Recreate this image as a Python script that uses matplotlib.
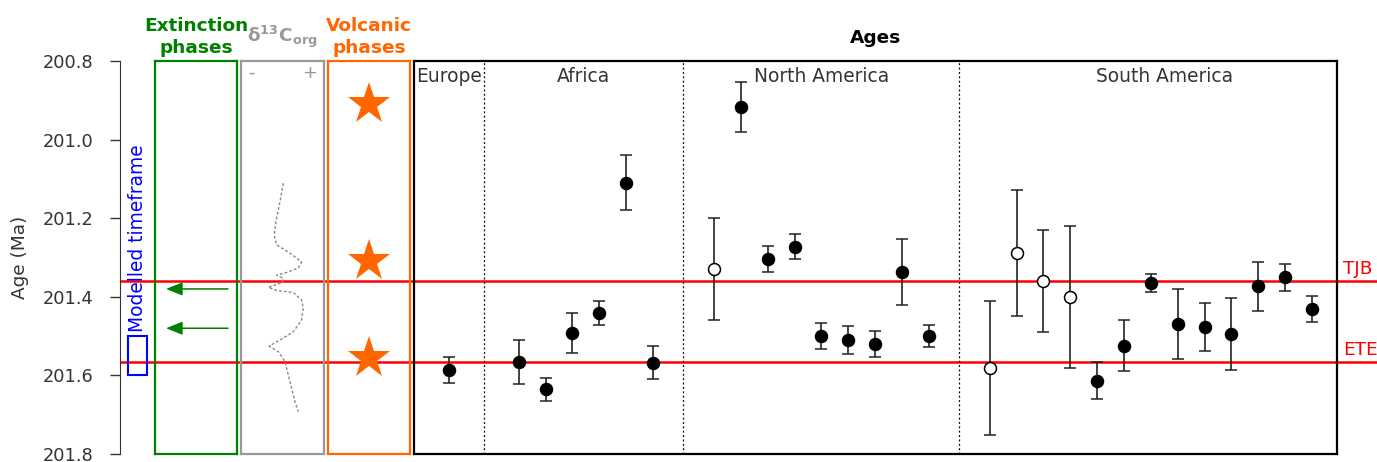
import matplotlib
matplotlib.use('Agg')
import matplotlib.pyplot as plt
from matplotlib.patches import Rectangle

plt.rcParams['font.family'] = ['DejaVu Sans']

# boundaries and phases (Ma)
tjb_age = 201.36
ete_age = 201.565
model_span = [201.5, 201.6]
extinction_ages = [201.38, 201.48]
volcanic_ages = [200.91, 201.31, 201.555]

# d13C org curve (relative value, 0 = "-", 1 = "+")
d13c_age = [201.111, 201.158, 201.209, 201.243, 201.268, 201.289, 201.311, 201.327,
            201.338, 201.345, 201.353, 201.363, 201.376, 201.384, 201.389, 201.408,
            201.429, 201.459, 201.489, 201.510, 201.525, 201.540, 201.565, 201.616,
            201.667, 201.692]
d13c_val = [0.51, 0.47, 0.42, 0.40, 0.43, 0.59, 0.73, 0.69, 0.55, 0.43, 0.51, 0.50,
            0.33, 0.43, 0.63, 0.73, 0.75, 0.73, 0.63, 0.47, 0.34, 0.45, 0.53, 0.59,
            0.65, 0.69]

# radiometric ages per region
regions = ['Europe', 'Africa', 'North America', 'South America']
europe_age = [201.586]
europe_err = [0.034]
europe_open = [False]
africa_age = [201.566, 201.635, 201.492, 201.441, 201.110, 201.568]
africa_err = [0.055, 0.029, 0.052, 0.030, 0.070, 0.042]
africa_open = [False] * 6
na_age = [201.329, 200.917, 201.304, 201.273, 201.500, 201.510, 201.520, 201.337, 201.500]
na_err = [0.130, 0.064, 0.033, 0.032, 0.033, 0.035, 0.033, 0.084, 0.028]
na_open = [True] + [False] * 8
sa_age = [201.581, 201.289, 201.360, 201.400, 201.614, 201.525, 201.365, 201.469,
          201.477, 201.495, 201.373, 201.350, 201.431]
sa_err = [0.170, 0.160, 0.130, 0.180, 0.047, 0.065, 0.023, 0.089, 0.062, 0.092,
          0.062, 0.034, 0.033]
sa_open = [True] * 4 + [False] * 9

all_age = [europe_age, africa_age, na_age, sa_age]
all_err = [europe_err, africa_err, na_err, sa_err]
all_open = [europe_open, africa_open, na_open, sa_open]

W, H = 1377, 462
fig = plt.figure(figsize=(W / 100, H / 100), dpi=100)
bottom, height = 8 / H, 393 / H


def panel(x0, x1):
    a = fig.add_axes([x0 / W, bottom, (x1 - x0) / W, height])
    a.set_ylim(201.8, 200.8)
    a.set_facecolor('none')
    return a


def frame(a, color):
    a.set_xticks([])
    a.set_yticks([])
    for s in a.spines.values():
        s.set_color(color)
        s.set_linewidth(1.6)


def header(a, text, color, off, **kw):
    a.annotate(text, xy=(0.5, 1), xycoords='axes fraction', xytext=(0, off),
               textcoords='offset points', ha='center', va='bottom', color=color,
               fontsize=13.3, fontweight='bold', linespacing=1.3, **kw)


# base axis: age scale and boundary lines (x in pixels of the figure)
base = panel(120, W)
base.set_xlim(120, W)
for k in ['top', 'right', 'bottom']:
    base.spines[k].set_visible(False)
base.spines['left'].set_color('#333333')
base.set_xticks([])
base.set_yticks([200.8, 201.0, 201.2, 201.4, 201.6, 201.8])
base.set_yticklabels(['200.8', '201.0', '201.2', '201.4', '201.6', '201.8'])
base.tick_params(axis='y', length=7.2, width=1, pad=12, labelsize=12.8, colors='#333333')
base.set_ylabel('Age (Ma)', fontsize=13.3, labelpad=10, color='#333333')
for age, lab in [(tjb_age, 'TJB'), (ete_age, 'ETE')]:
    base.axhline(age, color='red', lw=1.8, zorder=1)
    base.annotate(lab, xy=(1343, age), xytext=(0, 2), textcoords='offset points',
                  color='red', fontsize=13.3, ha='left', va='bottom')

base.add_patch(Rectangle((128, model_span[0]), 19, model_span[1] - model_span[0],
                         fill=False, ec='blue', lw=1.5))
base.annotate('Modelled timeframe', xy=(137.5, model_span[0]), xytext=(0, 3),
              textcoords='offset points', rotation=90, ha='center', va='bottom',
              color='blue', fontsize=13.4)

# extinction phases
ext = panel(155, 237)
ext.set_xlim(0, 1)
frame(ext, '#008000')
header(ext, 'Extinction\nphases', '#008000', 3)
for age in extinction_ages:
    ext.annotate('', xy=(0.134, age), xytext=(0.89, age),
                 arrowprops=dict(arrowstyle='-|>,head_length=0.5,head_width=0.2',
                                 color='#008000', lw=1.1, mutation_scale=20,
                                 shrinkA=0, shrinkB=0))

# d13C org
d13 = panel(241, 324)
d13.set_xlim(0, 1)
frame(d13, '#999999')
header(d13, r'δ$^{\mathbf{13}}$C$_{\mathbf{org}}$', '#999999', 8)
d13.plot(d13c_val, d13c_age, color='#888888', lw=1, ls=(0, (2, 1.5)))
d13.text(0.13, 0.969, '-', transform=d13.transAxes, color='#999999', fontsize=13,
         ha='center', va='center')
d13.text(0.83, 0.969, '+', transform=d13.transAxes, color='#999999', fontsize=13,
         ha='center', va='center')

# volcanic phases
volc = panel(328, 410)
volc.set_xlim(0, 1)
frame(volc, '#FF6600')
header(volc, 'Volcanic\nphases', '#FF6600', 3)
volc.plot([0.5] * len(volcanic_ages), volcanic_ages, ls='none', marker='*',
          ms=32, color='#FF6600', mew=0)

# ages
ages = panel(414, 1337)
frame(ages, 'black')
header(ages, 'Ages', 'black', 10)

gaps = [2.6, 2.27, 2.27]
region_x, seps = [], []
for i, vals in enumerate(all_age):
    if i == 0:
        start = 1.3
    else:
        start = region_x[-1][-1] + gaps[i - 1]
        seps.append(region_x[-1][-1] + gaps[i - 1] / 2)
    region_x.append([start + k for k in range(len(vals))])
xmin, xmax = 0, region_x[-1][-1] + 0.93
ages.set_xlim(xmin, xmax)

for s in seps:
    ages.axvline(s, color='black', lw=0.9, ls=(0, (1.5, 2)))

bounds = [xmin] + seps + [xmax]
label_shift = [0, 0, 0, 0.6]
for i, name in enumerate(regions):
    ages.text((bounds[i] + bounds[i + 1]) / 2 + label_shift[i], 0.985, name,
              transform=ages.get_xaxis_transform(), ha='center', va='top',
              fontsize=13.4, color='#333333')

for xs, vals, errs, opens in zip(region_x, all_age, all_err, all_open):
    for x, v, e, o in zip(xs, vals, errs, opens):
        ages.errorbar(x, v, yerr=e, fmt='o', ms=8.6, mfc='white' if o else 'black',
                      mec='black', mew=1.1, ecolor='#222222', elinewidth=1.2,
                      capsize=4, capthick=1.2, zorder=3)

fig.savefig('out.png', dpi=100)
